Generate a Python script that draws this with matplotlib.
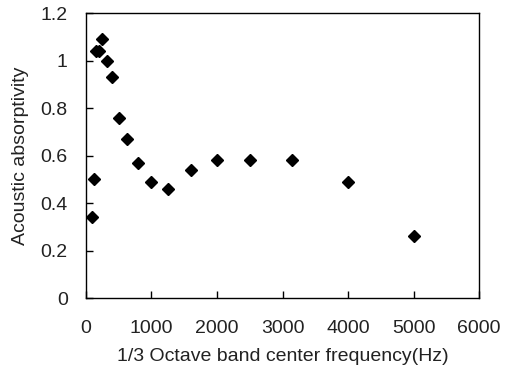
import matplotlib
matplotlib.use("Agg")
import matplotlib.pyplot as plt

# 1/3 octave band centre frequencies (Hz) and measured absorptivity
freqs = [100, 125, 160, 200, 250, 315, 400, 500, 630, 800, 1000, 1250,
         1600, 2000, 2500, 3150, 4000, 5000]
absorb = [0.34, 0.50, 1.04, 1.04, 1.09, 1.00, 0.93, 0.76, 0.67, 0.57, 0.49,
          0.46, 0.54, 0.58, 0.58, 0.58, 0.49, 0.26]

xticks = [0, 1000, 2000, 3000, 4000, 5000, 6000]
yticks = [0, 0.2, 0.4, 0.6, 0.8, 1, 1.2]
ytick_labels = ["0", "0.2", "0.4", "0.6", "0.8", "1", "1.2"]

plt.rcParams['font.family'] = ['Liberation Sans', 'DejaVu Sans']

fig = plt.figure(figsize=(5.05, 3.74), dpi=100)
ax = fig.add_axes([0.170, 0.203, 0.779, 0.762])

ax.plot(freqs, absorb, linestyle='none', marker='D', markersize=6,
        color='black')

ax.set_xlim(0, 6000)
ax.set_ylim(0, 1.2)
ax.set_xticks(xticks)
ax.set_yticks(yticks)
ax.set_yticklabels(ytick_labels)
ax.tick_params(direction='in', length=5, width=1, labelsize=14,
               labelcolor='#222222')
ax.tick_params(axis='x', pad=15.5)
ax.tick_params(axis='y', pad=13)
for s in ax.spines.values():
    s.set_linewidth(1)

ax.set_xlabel('1/3 Octave band center frequency(Hz)', fontsize=14,
              labelpad=8, color='#222222')
ax.set_ylabel('Acoustic absorptivity', fontsize=14, labelpad=8,
              color='#222222')

fig.savefig('out.png', dpi=100)
